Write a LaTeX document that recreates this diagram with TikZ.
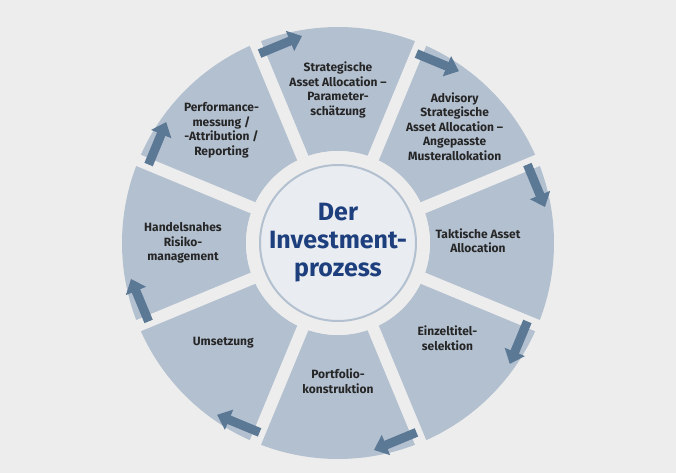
\documentclass[tikz,border=0pt]{standalone}
\usepackage{fontspec}
\setmainfont{Fira Sans}
\usetikzlibrary{arrows.meta,calc}
\definecolor{bgcol}{HTML}{EDEDED}
\definecolor{segcol}{HTML}{B3C0D0}
\definecolor{arrcol}{HTML}{5B7895}
\definecolor{titlecol}{HTML}{1E3F7E}
\definecolor{hubcol}{HTML}{E9ECF0}
\begin{document}
\begin{tikzpicture}[x=1pt,y=1pt,
    every node/.style={font=\bfseries\fontsize{12}{14.5}\selectfont, align=center, text=black!85},
    step arrow/.style={arrcol, line width=9pt, -{Triangle[width=21pt,length=13pt]}}]
    \fill[bgcol] (-338,-230) rectangle (338,243);
    \useasboundingbox (-338,-230) rectangle (338,243);
    % ring segments
    \foreach \a in {90,45,...,-225}
        \fill[segcol] (\a+22.5:92) -- (\a+22.5:216) arc[start angle=\a+22.5, end angle=\a-22.5, radius=216]
            -- (\a-22.5:92) arc[start angle=\a-22.5, end angle=\a+22.5, radius=92] -- cycle;
    \foreach \a in {22.5,67.5,...,337.5}
        \draw[bgcol, line width=12pt] (0,0) -- (\a:225);
    % hub
    \fill[bgcol] (0,0) circle (92);
    \draw[segcol, fill=hubcol, line width=2pt] (0,0) circle (78);
    \node[font=\bfseries\fontsize{25}{28}\selectfont, text=titlecol] (hub) at (0,0) {Der\\Investment-\\prozess};
    % labels
    \node (strat) at (90:153) {Strategische\\Asset Allocation --\\Parameter-\\schätzung};
    \node (advis) at (45:165) {Advisory\\Strategische\\Asset Allocation\ --\\Angepasste\\Musterallokation};
    \node (takt) at (1:140) {Taktische Asset\\Allocation};
    \node (einz) at (-41:145) {Einzeltitel-\\selektion};
    \node (portf) at (-90:138) {Portfolio-\\konstruktion};
    \node (ums) at (-139:152) {Umsetzung};
    \node (handel) at (180:155) {Handelsnahes\\Risiko-\\management};
    \node (perf) at (136:162) {Performance-\\messung /\\-Attribution /\\Reporting};
    % arrows
    \foreach \g [count=\i] in {112.5,67.5,22.5,-22.5,-67.5,-112.5,-157.5,-202.5} {
        \coordinate (s\i) at (\g:205);
        \coordinate (e\i) at ($(s\i)+(\g-90:46)$);
        \draw[step arrow] (s\i) -- (e\i);
    }
\end{tikzpicture}
\end{document}
